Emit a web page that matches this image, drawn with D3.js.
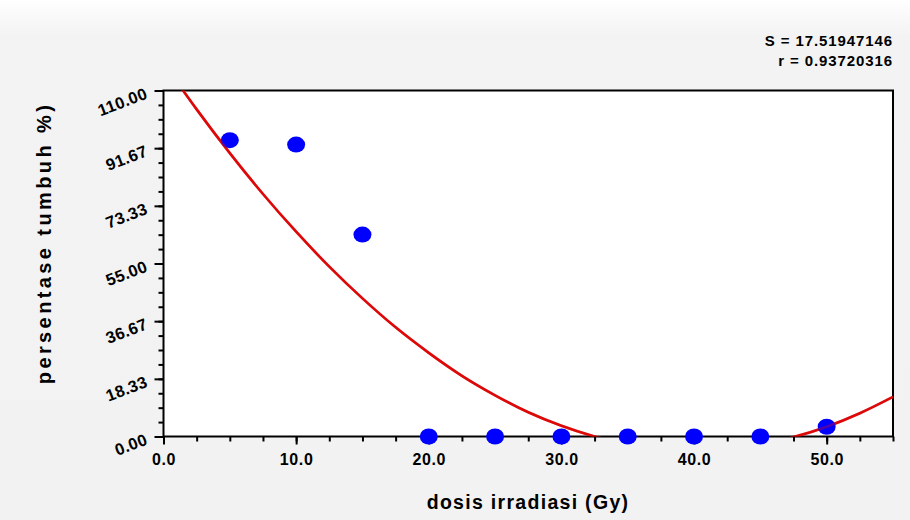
<!DOCTYPE html>
<html><head><meta charset="utf-8">
<script src="https://cdn.jsdelivr.net/npm/d3@7"></script>
<style>
html,body{margin:0;padding:0;background:#f3f3f3;}
svg{display:block;font-family:"Liberation Sans",Arial,sans-serif;}
</style></head>
<body>
<svg id="chart" width="910" height="520"></svg>
<script>
// Data
const doses = [5, 10, 15, 20, 25, 30, 35, 40, 45, 50];
const growth = [94.2, 92.8, 64.2, 0, 0, 0, 0, 0, 0, 3.1];
// Fitted curve
const fitX = [1, 2.5, 5, 7.5, 10, 12.5, 15, 17.5, 20, 22.5, 25, 27.5, 30, 32.5, 35, 37.5, 40, 42.5, 45, 47.5, 50, 52.5, 55];
const fitY = [112.8, 104.0, 90.1, 77.1, 65.1, 54.0, 43.9, 34.7, 26.6, 19.3, 13.1, 7.7, 3.4, 0, -2.4, -3.8, -4.4, -4.0, -2.6, -0.2, 3.1, 7.4, 12.6];
const yTicks = [0, 18.33, 36.67, 55.00, 73.33, 91.67, 110.00];
const yTickLabels = ["0.00", "18.33", "36.67", "55.00", "73.33", "91.67", "110.00"];
const xTicks = [0, 10, 20, 30, 40, 50];
const xTickLabels = ["0.0", "10.0", "20.0", "30.0", "40.0", "50.0"];
const statLines = ["S = 17.51947146", "r = 0.93720316"];
const xTitle = "dosis irradiasi (Gy)";
const yTitle = "persentase tumbuh %)";

const svg = d3.select("#chart");
const m = {left: 163.5, top: 90.5, right: 893, bottom: 436.5};

// background
const defs = svg.append("defs");
const g1 = defs.append("linearGradient").attr("id","bg").attr("x1",0).attr("y1",0).attr("x2",0).attr("y2",1);
g1.append("stop").attr("offset","0").attr("stop-color","#ffffff");
g1.append("stop").attr("offset","0.02").attr("stop-color","#fbfbfb");
g1.append("stop").attr("offset","0.07").attr("stop-color","#f3f3f3");
g1.append("stop").attr("offset","1").attr("stop-color","#f2f2f2");
svg.append("rect").attr("width",910).attr("height",520).attr("fill","url(#bg)");

const x = d3.scaleLinear().domain([0, 55]).range([m.left, m.right]);
const y = d3.scaleLinear().domain([0, 110]).range([m.bottom, m.top]);

svg.append("rect").attr("x", m.left).attr("y", m.top)
  .attr("width", m.right - m.left).attr("height", m.bottom - m.top)
  .attr("fill", "#ffffff");

defs.append("clipPath").attr("id","clip").append("rect")
  .attr("x", m.left).attr("y", m.top).attr("width", m.right - m.left).attr("height", m.bottom - m.top);

// minor ticks
const yMinor = d3.range(0, 25).map(i => i * 110 / 24);
const xMinor = d3.range(0, 23).map(i => i * 2.5);

const yAxis = svg.append("g").attr("transform", `translate(${m.left},0)`)
  .call(d3.axisLeft(y).tickValues(yMinor).tickSize(5).tickFormat(""));
const yAxisMaj = svg.append("g").attr("transform", `translate(${m.left},0)`)
  .call(d3.axisLeft(y).tickValues(yTicks).tickSize(9).tickFormat((d,i) => yTickLabels[i]));
const xAxis = svg.append("g").attr("transform", `translate(0,${m.bottom})`)
  .call(d3.axisBottom(x).tickValues(xMinor).tickSize(5).tickFormat(""));
const xAxisMaj = svg.append("g").attr("transform", `translate(0,${m.bottom})`)
  .call(d3.axisBottom(x).tickValues(xTicks).tickSize(8).tickFormat((d,i) => xTickLabels[i]));

[yAxis, yAxisMaj, xAxis, xAxisMaj].forEach(a => {
  a.select(".domain").remove();
  a.selectAll(".tick line").attr("stroke", "#000").attr("stroke-width", 2);
});

yAxisMaj.selectAll(".tick text")
  .attr("x", null).attr("dy", null)
  .attr("font-size", 16.5).attr("font-weight", "bold").attr("fill", "#000")
  .attr("letter-spacing", 0.3)
  .attr("text-anchor", "end")
  .attr("transform", "translate(-15,7) rotate(-21)");
xAxisMaj.selectAll(".tick text")
  .attr("y", 17).attr("dy", "0.71em")
  .attr("font-size", 16).attr("font-weight", "bold").attr("fill", "#000")
  .attr("letter-spacing", 0.6);

// frame
svg.append("rect").attr("x", m.left).attr("y", m.top)
  .attr("width", m.right - m.left).attr("height", m.bottom - m.top)
  .attr("fill", "none").attr("stroke", "#000").attr("stroke-width", 2);

// fitted curve
const line = d3.line().x((d,i) => x(fitX[i])).y(d => y(d)).curve(d3.curveMonotoneX);
svg.append("path").attr("d", line(fitY)).attr("clip-path","url(#clip)")
  .attr("fill","none").attr("stroke","#dd0a0a").attr("stroke-width",2.6);

// points
svg.append("g").selectAll("ellipse").data(growth).join("ellipse")
  .attr("cx", (d,i) => x(doses[i])).attr("cy", d => y(d))
  .attr("rx", 9).attr("ry", 8).attr("fill", "#0000ff");

// curve faintly over the point at 50
svg.append("path").attr("d", line(fitY)).attr("clip-path","url(#clip)")
  .attr("fill","none").attr("stroke","#dd0a0a").attr("stroke-width",2.6).attr("opacity",0.35);

// stats
svg.append("g").selectAll("text").data(statLines).join("text")
  .attr("x", 893).attr("y", (d,i) => 46 + i * 20)
  .attr("text-anchor", "end").attr("font-size", 15).attr("font-weight", "bold")
  .attr("letter-spacing", 0.9)
  .attr("fill", "#000").text(d => d);

// titles
svg.append("text").attr("x", 528).attr("y", 509).attr("text-anchor", "middle")
  .attr("font-size", 19.5).attr("font-weight", "bold").attr("letter-spacing", 1.3)
  .attr("fill", "#000").text(xTitle);
svg.append("text").attr("transform", "translate(51,243) rotate(-90)").attr("text-anchor", "middle")
  .attr("font-size", 20).attr("font-weight", "bold").attr("letter-spacing", 3.4).attr("fill", "#000").text(yTitle);
</script>
</body></html>
